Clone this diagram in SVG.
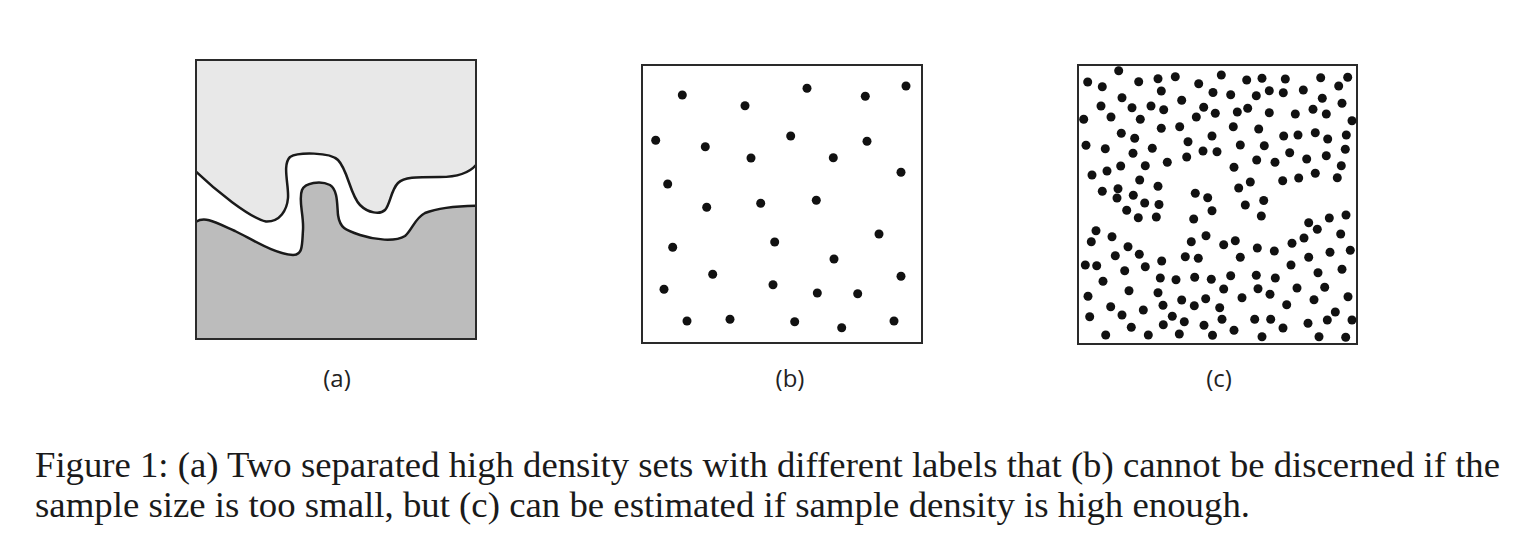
<svg xmlns="http://www.w3.org/2000/svg" width="1540" height="546" viewBox="0 0 1540 546">
<style>
.frame{fill:none;stroke:#2a2a2a;stroke-width:2}
.curve{fill:none;stroke:#1a1a1a;stroke-width:2.5;stroke-linejoin:round}
.dot circle{fill:#111}
.lab{font-family:"Open Sans","Liberation Sans",sans-serif;font-size:24px;fill:#222;text-anchor:middle}
.cap{font-family:"Liberation Serif","Times New Roman",serif;font-size:36px;fill:#1a1a1a}
</style>
<rect width="1540" height="546" fill="#fff"/>
<g id="panel-a">
<rect x="196" y="60" width="280" height="279" fill="#e8e8e8"/>
<path fill="#fff" d="M196,171.7 C215,190 250,218 266,221.5 C280,222 287,210 288,198 C289,185 282,165 290,157 C298,152 330,152 338,160 C348,170 350,195 360,205 C368,213 380,215 385,210 C390,205 391,190 398,183 C404,177 415,177 440,177 C460,177 470,172 476,165 L476,339 L196,339 Z"/>
<path fill="#bcbcbc" d="M196,221.7 C205,216 215,222 235,231 C255,241 275,254 293,255 C303,255 302,245 303,230 C304,215 298,200 302,190 C305,183 320,180 330,185 C338,190 337,205 338,215 C340,228 345,230 360,235 C375,240 395,242 405,236 C412,230 415,218 425,213 C440,207 460,206 476,205.7 L476,339 L196,339 Z"/>
<path class="curve" d="M196,171.7 C215,190 250,218 266,221.5 C280,222 287,210 288,198 C289,185 282,165 290,157 C298,152 330,152 338,160 C348,170 350,195 360,205 C368,213 380,215 385,210 C390,205 391,190 398,183 C404,177 415,177 440,177 C460,177 470,172 476,165"/>
<path class="curve" d="M196,221.7 C205,216 215,222 235,231 C255,241 275,254 293,255 C303,255 302,245 303,230 C304,215 298,200 302,190 C305,183 320,180 330,185 C338,190 337,205 338,215 C340,228 345,230 360,235 C375,240 395,242 405,236 C412,230 415,218 425,213 C440,207 460,206 476,205.7"/>
<rect class="frame" x="196" y="60" width="280" height="279"/>
<text class="lab" x="337" y="387">(a)</text>
</g>
<g id="panel-b">
<rect class="frame" x="642" y="65" width="280" height="278"/>
<g class="dot">
<circle cx="682.3" cy="95" r="4.5"/><circle cx="745" cy="105.7" r="4.5"/><circle cx="807" cy="88.3" r="4.5"/><circle cx="865.3" cy="96.3" r="4.5"/><circle cx="906" cy="86" r="4.5"/>
<circle cx="655.7" cy="140.3" r="4.5"/><circle cx="705.3" cy="146.7" r="4.5"/><circle cx="751" cy="158" r="4.5"/><circle cx="790.7" cy="136" r="4.5"/><circle cx="833.3" cy="157.7" r="4.5"/>
<circle cx="867" cy="141.3" r="4.5"/><circle cx="901" cy="172.3" r="4.5"/><circle cx="667.7" cy="184" r="4.5"/><circle cx="706.7" cy="207.3" r="4.5"/><circle cx="760.7" cy="203.3" r="4.5"/>
<circle cx="816.3" cy="200.3" r="4.5"/><circle cx="879" cy="234" r="4.5"/><circle cx="672.7" cy="247.3" r="4.5"/><circle cx="774.7" cy="242" r="4.5"/><circle cx="834" cy="259" r="4.5"/>
<circle cx="712.7" cy="274.3" r="4.5"/><circle cx="901" cy="276.3" r="4.5"/><circle cx="664" cy="289.3" r="4.5"/><circle cx="773" cy="284.7" r="4.5"/><circle cx="817.3" cy="293" r="4.5"/>
<circle cx="857.7" cy="293.7" r="4.5"/><circle cx="687" cy="321" r="4.5"/><circle cx="730" cy="319.3" r="4.5"/><circle cx="794.7" cy="321.7" r="4.5"/><circle cx="841.7" cy="327.7" r="4.5"/>
<circle cx="894" cy="321" r="4.5"/>
</g>
<text class="lab" x="790" y="387">(b)</text>
</g>
<g id="panel-c">
<rect class="frame" x="1078" y="65" width="279" height="279"/>
<g class="dot">
<circle cx="1118.7" cy="70.7" r="4.5"/><circle cx="1087.7" cy="82" r="4.5"/><circle cx="1102.3" cy="86.7" r="4.5"/><circle cx="1138.7" cy="81.7" r="4.5"/><circle cx="1158" cy="78.7" r="4.5"/>
<circle cx="1175.3" cy="76.7" r="4.5"/><circle cx="1161.3" cy="91" r="4.5"/><circle cx="1198.7" cy="83.7" r="4.5"/><circle cx="1213" cy="92.5" r="4.5"/><circle cx="1122" cy="97.7" r="4.5"/>
<circle cx="1101" cy="106" r="4.5"/><circle cx="1132" cy="107.7" r="4.5"/><circle cx="1151" cy="106" r="4.5"/><circle cx="1163.7" cy="109.7" r="4.5"/><circle cx="1181.7" cy="100.3" r="4.5"/>
<circle cx="1203.7" cy="107.3" r="4.5"/><circle cx="1215.3" cy="113.3" r="4.5"/><circle cx="1083.7" cy="119.3" r="4.5"/><circle cx="1111" cy="117" r="4.5"/><circle cx="1140.3" cy="119.3" r="4.5"/>
<circle cx="1196.3" cy="117" r="4.5"/><circle cx="1161.3" cy="128.3" r="4.5"/><circle cx="1179.7" cy="126.7" r="4.5"/><circle cx="1121.3" cy="133.3" r="4.5"/><circle cx="1134.7" cy="138.3" r="4.5"/>
<circle cx="1212" cy="136" r="4.5"/><circle cx="1188" cy="141.7" r="4.5"/><circle cx="1086" cy="145.3" r="4.5"/><circle cx="1105.3" cy="148.7" r="4.5"/><circle cx="1133" cy="153.3" r="4.5"/>
<circle cx="1152.3" cy="148.3" r="4.5"/><circle cx="1203" cy="151" r="4.5"/><circle cx="1217" cy="151.7" r="4.5"/><circle cx="1186.7" cy="157" r="4.5"/><circle cx="1167.3" cy="162.3" r="4.5"/>
<circle cx="1120.7" cy="166" r="4.5"/><circle cx="1145.3" cy="165.7" r="4.5"/><circle cx="1107" cy="171" r="4.5"/><circle cx="1092" cy="175" r="4.5"/><circle cx="1139.7" cy="180" r="4.5"/>
<circle cx="1158" cy="186.3" r="4.5"/><circle cx="1102.3" cy="191.3" r="4.5"/><circle cx="1118" cy="188.7" r="4.5"/><circle cx="1117" cy="198" r="4.5"/><circle cx="1133.3" cy="195.3" r="4.5"/>
<circle cx="1195.3" cy="193.3" r="4.5"/><circle cx="1207.7" cy="197.7" r="4.5"/><circle cx="1144.7" cy="203" r="4.5"/><circle cx="1159" cy="204.5" r="4.5"/><circle cx="1126.7" cy="210.3" r="4.5"/>
<circle cx="1138.3" cy="217.7" r="4.5"/><circle cx="1156.3" cy="217" r="4.5"/><circle cx="1193.7" cy="219" r="4.5"/><circle cx="1212" cy="210.7" r="4.5"/><circle cx="1096" cy="230.7" r="4.5"/>
<circle cx="1091.3" cy="241.7" r="4.5"/><circle cx="1112" cy="236.7" r="4.5"/><circle cx="1128" cy="246.7" r="4.5"/><circle cx="1115.3" cy="255.7" r="4.5"/><circle cx="1139.3" cy="254.3" r="4.5"/>
<circle cx="1191.3" cy="241.7" r="4.5"/><circle cx="1206" cy="235.7" r="4.5"/><circle cx="1085.3" cy="265" r="4.5"/><circle cx="1096.7" cy="265.7" r="4.5"/><circle cx="1145.3" cy="266.7" r="4.5"/>
<circle cx="1161.7" cy="261" r="4.5"/><circle cx="1185.3" cy="256.7" r="4.5"/><circle cx="1198.3" cy="258.3" r="4.5"/><circle cx="1124.7" cy="270.7" r="4.5"/><circle cx="1103" cy="281.3" r="4.5"/>
<circle cx="1160.3" cy="278" r="4.5"/><circle cx="1176" cy="279.7" r="4.5"/><circle cx="1194.7" cy="277.3" r="4.5"/><circle cx="1211.3" cy="279.3" r="4.5"/><circle cx="1129" cy="290.7" r="4.5"/>
<circle cx="1158" cy="292.7" r="4.5"/><circle cx="1088" cy="296.3" r="4.5"/><circle cx="1163" cy="305.3" r="4.5"/><circle cx="1181.7" cy="300" r="4.5"/><circle cx="1205.7" cy="298.7" r="4.5"/>
<circle cx="1194.3" cy="305.7" r="4.5"/><circle cx="1110.7" cy="306.7" r="4.5"/><circle cx="1143.3" cy="310" r="4.5"/><circle cx="1122" cy="315" r="4.5"/><circle cx="1172.3" cy="316.3" r="4.5"/>
<circle cx="1089.7" cy="316.7" r="4.5"/><circle cx="1184.3" cy="321.7" r="4.5"/><circle cx="1163.3" cy="324.7" r="4.5"/><circle cx="1204" cy="325.3" r="4.5"/><circle cx="1131.3" cy="327.3" r="4.5"/>
<circle cx="1105.7" cy="335" r="4.5"/><circle cx="1148.3" cy="335" r="4.5"/><circle cx="1179.3" cy="334" r="4.5"/><circle cx="1212.5" cy="335.3" r="4.5"/>
<circle cx="1221.3" cy="75" r="4.5"/><circle cx="1246.7" cy="80" r="4.5"/><circle cx="1262" cy="78.3" r="4.5"/><circle cx="1285.3" cy="79" r="4.5"/><circle cx="1320.7" cy="77.7" r="4.5"/>
<circle cx="1347.7" cy="77.3" r="4.5"/><circle cx="1338.7" cy="86" r="4.5"/><circle cx="1230.7" cy="94.7" r="4.5"/><circle cx="1256.3" cy="95.7" r="4.5"/><circle cx="1269.3" cy="90.7" r="4.5"/>
<circle cx="1283.3" cy="92.7" r="4.5"/><circle cx="1303.3" cy="90" r="4.5"/><circle cx="1322.3" cy="98.3" r="4.5"/><circle cx="1342" cy="103.3" r="4.5"/><circle cx="1237.3" cy="112" r="4.5"/>
<circle cx="1247.7" cy="108.3" r="4.5"/><circle cx="1269.3" cy="112.7" r="4.5"/><circle cx="1295.3" cy="114" r="4.5"/><circle cx="1313" cy="109.3" r="4.5"/><circle cx="1326.3" cy="114" r="4.5"/>
<circle cx="1352" cy="120.7" r="4.5"/><circle cx="1233.3" cy="126.7" r="4.5"/><circle cx="1258.7" cy="129" r="4.5"/><circle cx="1283.7" cy="136" r="4.5"/><circle cx="1298" cy="135" r="4.5"/>
<circle cx="1315.3" cy="132.7" r="4.5"/><circle cx="1327.7" cy="139" r="4.5"/><circle cx="1346.3" cy="135" r="4.5"/><circle cx="1240.3" cy="145" r="4.5"/><circle cx="1264.3" cy="145.7" r="4.5"/>
<circle cx="1345.3" cy="149.3" r="4.5"/><circle cx="1289.7" cy="152.7" r="4.5"/><circle cx="1326.3" cy="155.7" r="4.5"/><circle cx="1256.7" cy="160" r="4.5"/><circle cx="1275" cy="162.3" r="4.5"/>
<circle cx="1306.7" cy="159" r="4.5"/><circle cx="1234" cy="167.3" r="4.5"/><circle cx="1341.3" cy="165.7" r="4.5"/><circle cx="1315.3" cy="173.3" r="4.5"/><circle cx="1282.7" cy="180.7" r="4.5"/>
<circle cx="1298.7" cy="178" r="4.5"/><circle cx="1337.3" cy="177.7" r="4.5"/><circle cx="1250.3" cy="182" r="4.5"/><circle cx="1238.7" cy="188" r="4.5"/><circle cx="1263.7" cy="200.5" r="4.5"/>
<circle cx="1245.3" cy="205" r="4.5"/><circle cx="1261.3" cy="216" r="4.5"/><circle cx="1308.7" cy="222.7" r="4.5"/><circle cx="1317.3" cy="229.3" r="4.5"/><circle cx="1329.3" cy="218" r="4.5"/>
<circle cx="1346" cy="215" r="4.5"/><circle cx="1340.7" cy="234" r="4.5"/><circle cx="1304" cy="238" r="4.5"/><circle cx="1292" cy="243.3" r="4.5"/><circle cx="1223.7" cy="244.7" r="4.5"/>
<circle cx="1235.3" cy="240.7" r="4.5"/><circle cx="1257.3" cy="248" r="4.5"/><circle cx="1274.3" cy="251" r="4.5"/><circle cx="1240.3" cy="257.3" r="4.5"/><circle cx="1308.7" cy="257.3" r="4.5"/>
<circle cx="1330" cy="252.3" r="4.5"/><circle cx="1350.3" cy="250.3" r="4.5"/><circle cx="1291" cy="265" r="4.5"/><circle cx="1318" cy="272.7" r="4.5"/><circle cx="1342" cy="269.3" r="4.5"/>
<circle cx="1230.7" cy="275.7" r="4.5"/><circle cx="1256.3" cy="275.3" r="4.5"/><circle cx="1275.3" cy="278" r="4.5"/><circle cx="1223.7" cy="289" r="4.5"/><circle cx="1258" cy="288.7" r="4.5"/>
<circle cx="1270" cy="294.3" r="4.5"/><circle cx="1297" cy="288" r="4.5"/><circle cx="1324.7" cy="287.3" r="4.5"/><circle cx="1242" cy="297.7" r="4.5"/><circle cx="1314" cy="299.7" r="4.5"/>
<circle cx="1348" cy="296.7" r="4.5"/><circle cx="1286.7" cy="304.7" r="4.5"/><circle cx="1219.7" cy="307.7" r="4.5"/><circle cx="1335.3" cy="312" r="4.5"/><circle cx="1222" cy="319.3" r="4.5"/>
<circle cx="1254.7" cy="319.3" r="4.5"/><circle cx="1270.7" cy="319.3" r="4.5"/><circle cx="1327.3" cy="320" r="4.5"/><circle cx="1352" cy="320" r="4.5"/><circle cx="1308" cy="323.3" r="4.5"/>
<circle cx="1283" cy="328" r="4.5"/><circle cx="1234" cy="330.3" r="4.5"/><circle cx="1262" cy="336.7" r="4.5"/><circle cx="1319" cy="336.7" r="4.5"/><circle cx="1345.7" cy="337.3" r="4.5"/>
</g>
<text class="lab" x="1219" y="387">(c)</text>
</g>
<g id="caption">
<text class="cap" x="35" y="477" textLength="1465" lengthAdjust="spacingAndGlyphs">Figure 1: (a) Two separated high density sets with different labels that (b) cannot be discerned if the</text>
<text class="cap" x="35" y="517" textLength="1215" lengthAdjust="spacingAndGlyphs">sample size is too small, but (c) can be estimated if sample density is high enough.</text>
</g>
</svg>
